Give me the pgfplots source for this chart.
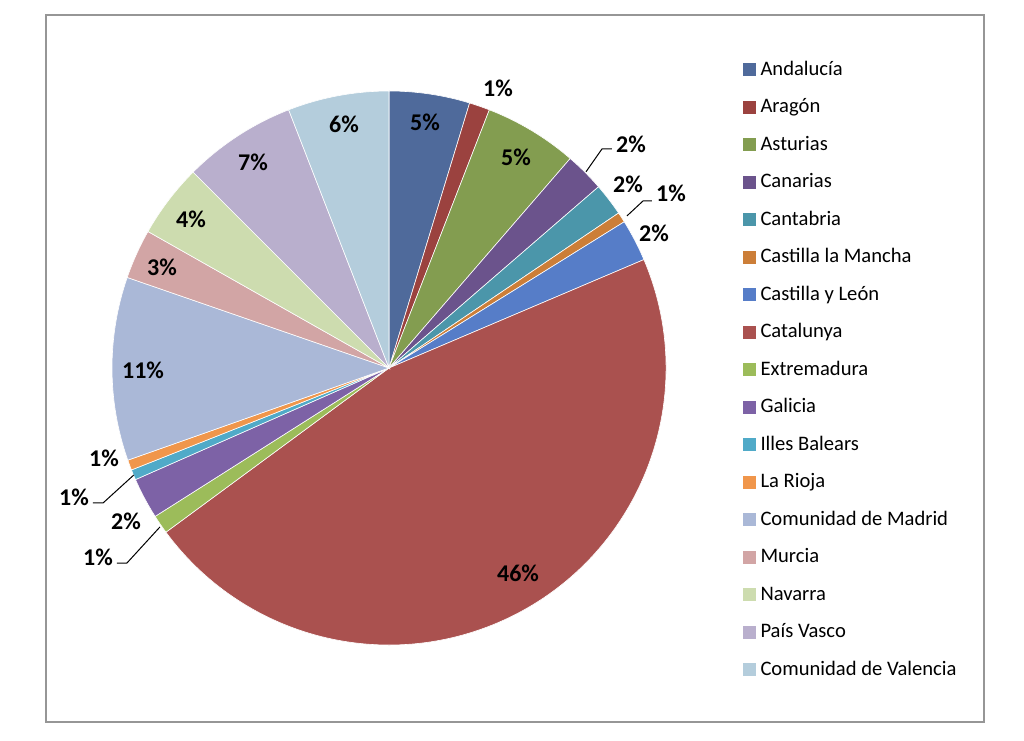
\documentclass[border=0pt]{standalone}
\usepackage{pgfplots}
\usepackage{pgfplotstable}
\pgfplotsset{compat=1.18}
\usepackage{fontspec}
\setmainfont{Carlito}

\definecolor{c0}{HTML}{4F6A9B}
\definecolor{c1}{HTML}{9B423F}
\definecolor{c2}{HTML}{839D50}
\definecolor{c3}{HTML}{6B538C}
\definecolor{c4}{HTML}{4B96AA}
\definecolor{c5}{HTML}{CC7E38}
\definecolor{c6}{HTML}{567DC8}
\definecolor{c7}{HTML}{AA514F}
\definecolor{c8}{HTML}{9CBC5A}
\definecolor{c9}{HTML}{7D62A6}
\definecolor{c10}{HTML}{50AAC8}
\definecolor{c11}{HTML}{F0964B}
\definecolor{c12}{HTML}{AAB8D7}
\definecolor{c13}{HTML}{D2A5A5}
\definecolor{c14}{HTML}{CDDCAF}
\definecolor{c15}{HTML}{B9AFCD}
\definecolor{c16}{HTML}{B4CDDC}
\definecolor{framegray}{HTML}{969696}

% value = share in %, lab = printed label, px/py = label centre in picture pixels
\pgfplotstableread{
value lab px py
4.7  5  425 122
1.2  1  498 88
5.45 5  516 157
2.3  2  631 144
1.9  2  628 184
0.6  1  671 193
2.45 2  654 233
46.3 46 518 573
1.1  1  98  557
2.4  2  126 521
0.6  1  74  497
0.6  1  104 458
10.7 11 143 370
2.9  3  162 267
4.3  4  191 219
6.6  7  253 162
5.9  6  344 124
}\piedata

\pgfplotsset{pielegend/.style={legend image code/.code={\fill[##1] (0pt,-3pt) rectangle (6pt,3pt);}}}

\begin{document}
\begin{tikzpicture}
\path[use as bounding box, fill=white] (0,0) rectangle (512pt,370pt);
\draw[framegray, line width=0.9pt] (23pt,362.5pt) rectangle (492pt,9pt);
\pgfplotstablegetrowsof{\piedata}
\pgfmathtruncatemacro\N{\pgfplotsretval-1}
\begin{axis}[
  at={(194.5pt,186pt)}, anchor=center,
  scale only axis, width=277pt, height=277pt,
  xmin=-1, xmax=1, ymin=-1, ymax=1,
  hide axis, clip=false,
  pielegend,
  legend cell align=left,
  legend style={at={(1.128,1.0634)}, anchor=north west, draw=none, fill=none,
    font=\fontsize{10.3}{12}\selectfont, row sep=9.25pt, column sep=2.2pt,
    nodes={inner sep=0pt, text height=7.5pt, text depth=2pt}},
]
\def\cum{0}
\pgfplotsforeachungrouped \i in {0,...,\N}{%
  \pgfplotstablegetelem{\i}{value}\of\piedata \let\sv\pgfplotsretval
  \pgfmathsetmacro\pa{90-3.6*\cum}%
  \pgfmathsetmacro\cum{\cum+\sv}%
  \pgfmathsetmacro\pb{90-3.6*\cum}%
  \edef\temp{\noexpand\fill[c\i, draw=white, line width=0.3pt] (axis cs:0,0) -- ++(\pa:138.5pt) arc[start angle=\pa, end angle=\pb, radius=138.5pt] -- cycle;}%
  \temp
}
\pgfplotsforeachungrouped \i in {0,...,\N}{%
  \pgfplotstablegetelem{\i}{lab}\of\piedata \let\plab\pgfplotsretval
  \pgfplotstablegetelem{\i}{px}\of\piedata \let\ppx\pgfplotsretval
  \pgfplotstablegetelem{\i}{py}\of\piedata \let\ppy\pgfplotsretval
  \pgfmathsetmacro\lx{(\ppx-389)/277}%
  \pgfmathsetmacro\ly{(368-\ppy)/277}%
  \edef\temp{\noexpand\node[font=\noexpand\bfseries\noexpand\fontsize{12}{14}\noexpand\selectfont, inner sep=0pt] at (axis cs:\lx,\ly) {\plab\noexpand\%};}%
  \temp
}
% leader lines
\draw[black, line width=0.5pt] (axis cs:0.711,0.708) -- (axis cs:0.769,0.791) -- (axis cs:0.805,0.791);
\draw[black, line width=0.5pt] (axis cs:0.859,0.549) -- (axis cs:0.917,0.603) -- (axis cs:0.949,0.603);
\draw[black, line width=0.5pt] (axis cs:-0.827,-0.574) -- (axis cs:-0.946,-0.704) -- (axis cs:-0.982,-0.704);
\draw[black, line width=0.5pt] (axis cs:-0.921,-0.386) -- (axis cs:-1.032,-0.487) -- (axis cs:-1.069,-0.487);

\addlegendimage{c0}\addlegendentry{Andalucía}
\addlegendimage{c1}\addlegendentry{Aragón}
\addlegendimage{c2}\addlegendentry{Asturias}
\addlegendimage{c3}\addlegendentry{Canarias}
\addlegendimage{c4}\addlegendentry{Cantabria}
\addlegendimage{c5}\addlegendentry{Castilla la Mancha}
\addlegendimage{c6}\addlegendentry{Castilla y León}
\addlegendimage{c7}\addlegendentry{Catalunya}
\addlegendimage{c8}\addlegendentry{Extremadura}
\addlegendimage{c9}\addlegendentry{Galicia}
\addlegendimage{c10}\addlegendentry{Illes Balears}
\addlegendimage{c11}\addlegendentry{La Rioja}
\addlegendimage{c12}\addlegendentry{Comunidad de Madrid}
\addlegendimage{c13}\addlegendentry{Murcia}
\addlegendimage{c14}\addlegendentry{Navarra}
\addlegendimage{c15}\addlegendentry{País Vasco}
\addlegendimage{c16}\addlegendentry{Comunidad de Valencia}
\end{axis}
\end{tikzpicture}
\end{document}
